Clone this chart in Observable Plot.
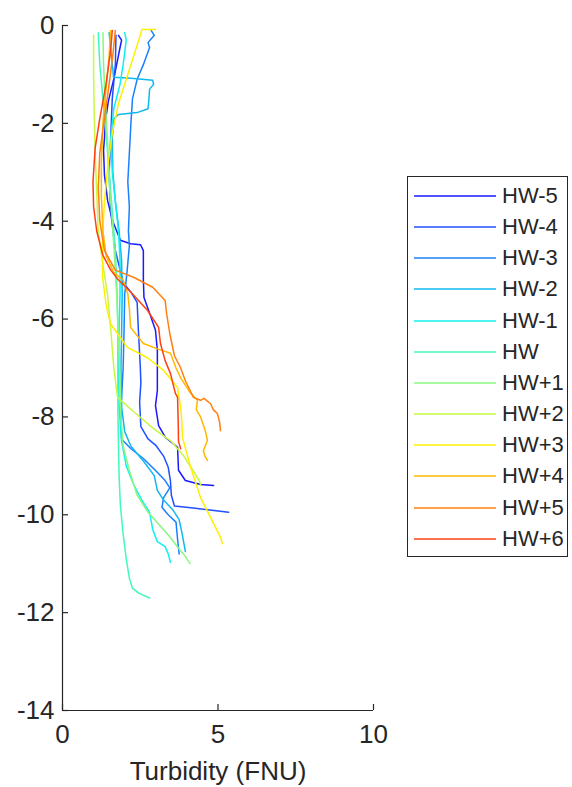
<!DOCTYPE html>
<html>
<head>
<meta charset="utf-8">
<script src="https://cdn.jsdelivr.net/npm/d3@7"></script>
<script src="https://cdn.jsdelivr.net/npm/@observablehq/plot@0.6"></script>
<style>
  body { margin: 0; background: #fff; }
  #wrap { position: relative; width: 572px; height: 787px; font-family: "Liberation Sans", Arial, Helvetica, sans-serif; }
  #legend { position: absolute; left: 407px; top: 176px; width: 161px; height: 381px; border: 1px solid #262626; box-sizing: border-box; background: #fff; }
  .item { position: absolute; left: 0; height: 30px; width: 160px; }
  .item svg { position: absolute; left: 0; top: 0; }
  .item .lb { position: absolute; left: 94px; top: 0; line-height: 30px; font-size: 22px; color: #262626; white-space: nowrap; }
</style>
</head>
<body>
<div id="wrap"><div id="chart"></div><div id="legend"></div></div>
<script>
// Series labels (legend order)
const labels = ["HW-5","HW-4","HW-3","HW-2","HW-1","HW","HW+1","HW+2","HW+3","HW+4","HW+5","HW+6"];

// Tick values
const xTicks = [0, 5, 10];
const yTicks = [-14, -12, -10, -8, -6, -4, -2, 0];

// Turbidity (FNU) and depth values for each profile
const turb_hwm5  = [1.80,1.90,1.85,1.80,1.64,1.48,1.38,1.35,1.32,1.35,1.40,1.45,1.61,1.86,2.19,2.51,2.60,2.60,2.62,2.83,2.99,3.05,3.05,2.99,3.09,3.31,3.70,3.73,3.95,4.44,4.86];
const depth_hwm5 = [-0.20,-0.30,-0.45,-0.61,-1.12,-1.53,-1.94,-2.30,-2.55,-3.07,-3.30,-3.58,-3.99,-4.39,-4.46,-4.48,-4.60,-5.20,-5.56,-5.93,-6.23,-6.64,-7.46,-7.77,-8.18,-8.42,-8.62,-9.09,-9.30,-9.38,-9.40];

const turb_hwm4  = [1.72,1.70,1.60,1.55,1.50,1.55,1.70,1.95,2.20,2.40,2.44,2.50,2.52,2.48,2.52,2.75,3.00,3.25,3.40,3.47,3.50,3.60,4.20,5.34];
const depth_hwm4 = [-0.20,-0.80,-1.50,-2.30,-3.00,-3.80,-4.60,-5.25,-5.45,-5.66,-6.23,-6.95,-7.30,-7.70,-8.20,-8.45,-8.58,-8.80,-9.03,-9.30,-9.60,-9.82,-9.86,-9.95];

const turb_hwm3  = [2.85,2.95,2.75,2.80,2.60,2.40,2.25,2.20,2.15,2.10,2.15,2.12,2.15,2.08,2.00,1.98,1.95,1.90,1.88,1.90,2.20,2.60,3.00,3.30,3.45,3.25,3.20,3.40,3.65,3.70,3.75];
const depth_hwm3 = [-0.10,-0.20,-0.35,-0.45,-0.80,-1.10,-1.50,-2.00,-2.60,-3.20,-3.70,-4.20,-4.50,-5.00,-5.50,-6.20,-7.00,-7.60,-8.20,-8.45,-8.65,-8.85,-9.10,-9.30,-9.45,-9.65,-9.85,-10.00,-10.15,-10.50,-10.80];

const turb_hwm2  = [1.50,1.55,1.62,1.64,2.20,2.90,2.93,2.80,2.78,2.75,2.40,1.80,1.66,1.60,1.62,1.70,1.82,1.90,1.92,1.90,1.88,1.90,2.00,2.20,2.60,2.95,3.05,3.25,3.55,3.75,3.85,3.95];
const depth_hwm2 = [-0.15,-0.50,-0.90,-1.06,-1.08,-1.12,-1.20,-1.30,-1.50,-1.70,-1.78,-1.82,-1.90,-2.30,-3.00,-3.60,-4.20,-4.80,-5.50,-6.30,-7.00,-7.80,-8.30,-8.60,-8.90,-9.20,-9.50,-9.70,-9.90,-10.10,-10.40,-10.75];

const turb_hwm1  = [2.00,2.05,1.95,1.85,1.65,1.55,1.60,1.70,1.80,1.85,1.85,1.82,1.80,1.82,1.90,2.05,2.30,2.55,2.80,2.90,3.05,3.30,3.40,3.47];
const depth_hwm1 = [-0.15,-0.30,-0.80,-1.20,-1.70,-2.30,-3.00,-3.60,-4.20,-4.80,-5.50,-6.20,-7.00,-7.80,-8.50,-9.00,-9.40,-9.70,-9.95,-10.30,-10.55,-10.65,-10.80,-10.97];

const turb_hw    = [1.15,1.20,1.30,1.40,1.50,1.60,1.70,1.75,1.78,1.78,1.78,1.80,1.82,1.86,1.95,2.05,2.15,2.25,2.45,2.80];
const depth_hw   = [-0.15,-0.80,-1.50,-2.20,-3.00,-3.80,-4.60,-5.40,-6.20,-7.00,-7.80,-8.60,-9.20,-9.80,-10.40,-10.90,-11.30,-11.50,-11.60,-11.70];

const turb_hwp1  = [1.30,1.32,1.38,1.45,1.50,1.60,1.68,1.75,1.80,1.85,1.88,1.95,2.15,2.40,2.75,3.10,3.45,3.75,3.95,4.10];
const depth_hwp1 = [-0.15,-0.80,-1.60,-2.40,-3.20,-4.00,-4.80,-5.60,-6.40,-7.20,-8.00,-8.60,-9.10,-9.60,-9.95,-10.20,-10.45,-10.70,-10.85,-11.00];

const turb_hwp2  = [1.00,1.00,1.02,1.05,1.10,1.15,1.30,1.45,1.55,1.65,1.77,2.30,2.95,3.50,3.90,4.20,4.40,4.45];
const depth_hwp2 = [-0.20,-1.00,-1.80,-2.60,-3.40,-4.20,-4.90,-5.50,-6.20,-7.00,-7.60,-7.90,-8.25,-8.50,-8.80,-9.10,-9.30,-9.40];

const turb_hwp3  = [3.00,2.55,2.50,2.30,2.05,1.80,1.60,1.45,1.35,1.29,1.29,1.40,1.54,2.09,2.73,3.25,3.70,3.82,3.86,4.00,4.12,4.44,4.86,5.08,5.14];
const depth_hwp3 = [-0.08,-0.08,-0.20,-0.60,-1.10,-1.60,-2.20,-2.90,-3.60,-4.25,-5.15,-5.70,-6.09,-6.58,-6.79,-7.05,-7.40,-7.90,-8.42,-8.75,-9.03,-9.65,-10.18,-10.46,-10.59];

const turb_hwp4  = [1.55,1.50,1.40,1.30,1.25,1.25,1.30,1.40,1.65,1.95,2.10,2.15,2.19,2.60,3.10,3.47,3.65,3.80,4.10,4.34,4.30,4.44,4.60,4.66,4.53,4.58,4.66];
const depth_hwp4 = [-0.10,-0.60,-1.30,-2.00,-2.80,-3.50,-4.20,-4.70,-5.05,-5.20,-5.48,-5.80,-6.17,-6.50,-6.62,-6.70,-7.00,-7.20,-7.50,-7.66,-7.85,-8.00,-8.30,-8.48,-8.69,-8.80,-8.89];

const turb_hwp5  = [1.70,1.62,1.50,1.35,1.20,1.15,1.20,1.35,1.70,2.30,2.90,3.30,3.35,3.45,3.60,3.80,3.95,4.21,4.44,4.55,4.76,4.85,4.98,5.05,5.08];
const depth_hwp5 = [-0.10,-0.60,-1.20,-1.90,-2.60,-3.30,-4.00,-4.60,-5.00,-5.15,-5.35,-5.62,-5.90,-6.30,-6.75,-7.00,-7.26,-7.60,-7.66,-7.62,-7.73,-7.85,-7.93,-8.10,-8.28];

const turb_hwp6  = [1.60,1.55,1.40,1.20,1.05,0.98,1.00,1.10,1.30,1.55,1.80,2.20,2.73,3.09,3.15,3.30,3.47,3.63,3.70,3.72,3.73,3.80];
const depth_hwp6 = [-0.10,-0.50,-1.20,-1.90,-2.50,-3.20,-3.70,-4.20,-4.70,-5.00,-5.20,-5.45,-5.82,-6.17,-6.50,-6.85,-7.11,-7.52,-7.60,-8.10,-8.50,-8.65];

const turbSeries  = [turb_hwm5, turb_hwm4, turb_hwm3, turb_hwm2, turb_hwm1, turb_hw, turb_hwp1, turb_hwp2, turb_hwp3, turb_hwp4, turb_hwp5, turb_hwp6];
const depthSeries = [depth_hwm5, depth_hwm4, depth_hwm3, depth_hwm2, depth_hwm1, depth_hw, depth_hwp1, depth_hwp2, depth_hwp3, depth_hwp4, depth_hwp5, depth_hwp6];

// Jet-like palette
const colors = ["#1a1aff","#2050ff","#1a80ff","#10b8f0","#10f0f0","#40f8c0","#88f880","#c8f840","#fff000","#ffb800","#ff8010","#ff4010"];

const rows = labels.flatMap((name, k) => turbSeries[k].map((t, i) => ({series: name, turb: t, depth: depthSeries[k][i]})));

const W = 572, H = 787, mL = 62, mR = 199, mT = 25, mB = 77;
const frameW = W - mL - mR, frameH = H - mT - mB;
const axisColor = "#262626";
const font = '"Liberation Sans", Arial, Helvetica, sans-serif';

const chart = Plot.plot({
  width: W, height: H,
  marginLeft: mL, marginRight: mR, marginTop: mT, marginBottom: mB,
  style: { fontFamily: font, fontSize: "26px", color: axisColor, background: "white", overflow: "visible" },
  x: { domain: [0, 10], label: null },
  y: { domain: [-14, 0], label: null },
  color: { type: "ordinal", domain: labels, range: colors },
  marks: [
    Plot.line(rows, { x: "turb", y: "depth", z: "series", stroke: "series", strokeWidth: 1.5 }),
    // axis lines
    Plot.ruleX([0], { stroke: axisColor, strokeWidth: 1.2 }),
    Plot.ruleY([-14], { stroke: axisColor, strokeWidth: 1.2 }),
    // inward tick marks
    Plot.ruleX(xTicks, { x: d => d, insetTop: frameH - 6, stroke: axisColor, strokeWidth: 1.2 }),
    Plot.ruleY(yTicks, { y: d => d, insetRight: frameW - 6, stroke: axisColor, strokeWidth: 1.2 }),
    // tick labels (hyphen-minus like the original)
    Plot.axisX({ ticks: xTicks, tickFormat: d => String(d), tickSize: 0, tickPadding: 14, fontSize: 26, label: null, fill: axisColor }),
    Plot.axisY({ ticks: yTicks, tickFormat: d => String(d), tickSize: 0, tickPadding: 8, fontSize: 26, label: null, fill: axisColor }),
    // axis title
    Plot.text(["Turbidity (FNU)"], { frameAnchor: "bottom", dy: 61, fontSize: 26, fill: axisColor, lineAnchor: "middle" })
  ]
});
document.getElementById("chart").appendChild(chart);

// Legend
const legend = document.getElementById("legend");
const svgNS = "http://www.w3.org/2000/svg";
labels.forEach((name, i) => {
  const item = document.createElement("div");
  item.className = "item";
  item.style.top = (4 + i * 31.15) + "px";
  const svg = document.createElementNS(svgNS, "svg");
  svg.setAttribute("width", "92");
  svg.setAttribute("height", "30");
  const ln = document.createElementNS(svgNS, "line");
  ln.setAttribute("x1", "6");
  ln.setAttribute("x2", "88");
  ln.setAttribute("y1", "15");
  ln.setAttribute("y2", "15");
  ln.setAttribute("stroke", colors[i]);
  ln.setAttribute("stroke-width", "1.5");
  svg.appendChild(ln);
  const lb = document.createElement("div");
  lb.className = "lb";
  lb.textContent = name;
  item.appendChild(svg);
  item.appendChild(lb);
  legend.appendChild(item);
});
</script>
</body>
</html>
